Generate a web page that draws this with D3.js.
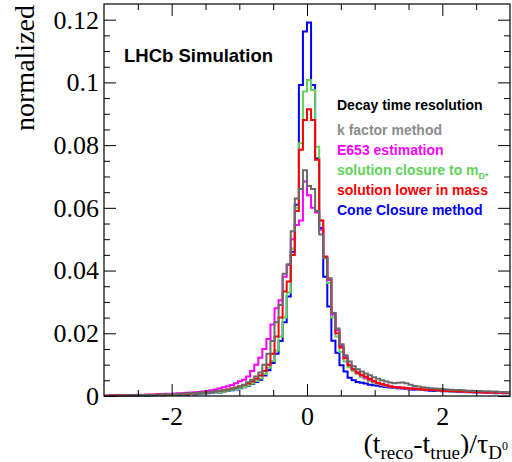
<!DOCTYPE html>
<html>
<head>
<meta charset="utf-8">
<script src="https://cdn.jsdelivr.net/npm/d3@7"></script>
<style>
  body { margin: 0; background: #fff; }
  svg text { fill: #000; }
</style>
</head>
<body>
<svg id="chart" width="512" height="462"></svg>
<script>
// Histogram binning: 100 bins of (t_reco - t_true)/tau over [-3, 3]
const xMin = -3, xMax = 3, nBins = 100;

// Normalized bin contents, one array per decay-time estimator (bins from -3 upwards)
const kFactor = [
  0.0001, 0.0001, 0.0001, 0.0002, 0.0001, 0.0002, 0.0002, 0.0002, 0.0003, 0.0003,
  0.0003, 0.0004, 0.0004, 0.0004, 0.0005, 0.0005, 0.0006, 0.0006, 0.0007, 0.0007,
  0.0008, 0.0009, 0.0009, 0.0010, 0.0011, 0.0012, 0.0013, 0.0014, 0.0016, 0.0018,
  0.0020, 0.0023, 0.0026, 0.0030, 0.0036, 0.0044, 0.0052, 0.0062, 0.0075, 0.0100,
  0.0135, 0.0175, 0.0235, 0.0290, 0.0390, 0.0420, 0.0525, 0.0630, 0.0660, 0.0720,
  0.0670, 0.0660, 0.0590, 0.0515, 0.0440, 0.0375, 0.0265, 0.0215, 0.0165, 0.0130,
  0.0110, 0.0095, 0.0085, 0.0078, 0.0072, 0.0066, 0.0060, 0.0055, 0.0050, 0.0046,
  0.0043, 0.0041, 0.0042, 0.0043, 0.0041, 0.0036, 0.0032, 0.0030, 0.0028, 0.0026,
  0.0025, 0.0024, 0.0023, 0.0022, 0.0021, 0.0020, 0.0019, 0.0019, 0.0018, 0.0017,
  0.0017, 0.0016, 0.0016, 0.0015, 0.0015, 0.0014, 0.0014, 0.0013, 0.0013, 0.0012
];
const e653 = [
  0.0001, 0.0002, 0.0001, 0.0002, 0.0002, 0.0003, 0.0002, 0.0003, 0.0004, 0.0003,
  0.0004, 0.0005, 0.0005, 0.0006, 0.0006, 0.0007, 0.0007, 0.0008, 0.0009, 0.0009,
  0.0010, 0.0011, 0.0012, 0.0013, 0.0014, 0.0016, 0.0018, 0.0020, 0.0024, 0.0028,
  0.0031, 0.0035, 0.0041, 0.0047, 0.0052, 0.0062, 0.0080, 0.0100, 0.0122, 0.0150,
  0.0182, 0.0228, 0.0280, 0.0305, 0.0380, 0.0418, 0.0500, 0.0545, 0.0560, 0.0684,
  0.0640, 0.0600, 0.0585, 0.0530, 0.0440, 0.0370, 0.0260, 0.0210, 0.0160, 0.0125,
  0.0100, 0.0085, 0.0074, 0.0065, 0.0058, 0.0052, 0.0046, 0.0041, 0.0037, 0.0034,
  0.0031, 0.0029, 0.0028, 0.0026, 0.0025, 0.0024, 0.0023, 0.0022, 0.0021, 0.0020,
  0.0019, 0.0019, 0.0018, 0.0017, 0.0016, 0.0016, 0.0015, 0.0015, 0.0014, 0.0014,
  0.0013, 0.0013, 0.0012, 0.0012, 0.0011, 0.0011, 0.0011, 0.0010, 0.0010, 0.0010
];
const closureMDstar = [
  0.0000, 0.0001, 0.0000, 0.0001, 0.0001, 0.0001, 0.0001, 0.0002, 0.0001, 0.0002,
  0.0002, 0.0002, 0.0003, 0.0003, 0.0003, 0.0004, 0.0003, 0.0004, 0.0005, 0.0005,
  0.0006, 0.0006, 0.0007, 0.0008, 0.0009, 0.0010, 0.0011, 0.0013, 0.0012, 0.0015,
  0.0017, 0.0020, 0.0022, 0.0026, 0.0029, 0.0034, 0.0040, 0.0048, 0.0056, 0.0070,
  0.0090, 0.0112, 0.0145, 0.0190, 0.0250, 0.0330, 0.0470, 0.0600, 0.0806, 0.0971,
  0.1008, 0.0976, 0.0795, 0.0560, 0.0440, 0.0360, 0.0250, 0.0190, 0.0140, 0.0110,
  0.0092, 0.0080, 0.0070, 0.0060, 0.0055, 0.0048, 0.0042, 0.0038, 0.0035, 0.0032,
  0.0030, 0.0028, 0.0027, 0.0026, 0.0024, 0.0023, 0.0022, 0.0021, 0.0020, 0.0019,
  0.0019, 0.0018, 0.0017, 0.0016, 0.0016, 0.0015, 0.0015, 0.0014, 0.0014, 0.0013,
  0.0013, 0.0012, 0.0012, 0.0012, 0.0011, 0.0011, 0.0010, 0.0010, 0.0010, 0.0009
];
const lowerMass = [
  0.0001, 0.0001, 0.0002, 0.0001, 0.0002, 0.0002, 0.0003, 0.0002, 0.0003, 0.0003,
  0.0004, 0.0003, 0.0004, 0.0005, 0.0004, 0.0005, 0.0005, 0.0006, 0.0006, 0.0007,
  0.0007, 0.0008, 0.0009, 0.0010, 0.0011, 0.0012, 0.0013, 0.0015, 0.0016, 0.0018,
  0.0021, 0.0024, 0.0027, 0.0031, 0.0035, 0.0040, 0.0046, 0.0055, 0.0065, 0.0080,
  0.0100, 0.0135, 0.0190, 0.0250, 0.0333, 0.0365, 0.0450, 0.0590, 0.0785, 0.0880,
  0.0914, 0.0880, 0.0753, 0.0560, 0.0445, 0.0375, 0.0265, 0.0200, 0.0155, 0.0120,
  0.0098, 0.0085, 0.0075, 0.0068, 0.0062, 0.0055, 0.0048, 0.0042, 0.0038, 0.0034,
  0.0030, 0.0029, 0.0027, 0.0026, 0.0025, 0.0024, 0.0023, 0.0022, 0.0021, 0.0020,
  0.0019, 0.0019, 0.0018, 0.0017, 0.0017, 0.0016, 0.0015, 0.0015, 0.0014, 0.0014,
  0.0013, 0.0013, 0.0012, 0.0012, 0.0011, 0.0011, 0.0011, 0.0010, 0.0010, 0.0010
];
const coneClosure = [
  0.0000, 0.0000, 0.0001, 0.0000, 0.0001, 0.0001, 0.0000, 0.0001, 0.0001, 0.0002,
  0.0001, 0.0002, 0.0002, 0.0003, 0.0002, 0.0003, 0.0003, 0.0004, 0.0003, 0.0005,
  0.0004, 0.0006, 0.0005, 0.0007, 0.0008, 0.0009, 0.0010, 0.0012, 0.0011, 0.0014,
  0.0016, 0.0018, 0.0021, 0.0025, 0.0028, 0.0033, 0.0038, 0.0045, 0.0052, 0.0065,
  0.0082, 0.0105, 0.0135, 0.0175, 0.0235, 0.0317, 0.0460, 0.0610, 0.0992, 0.1162,
  0.1191, 0.0992, 0.0758, 0.0536, 0.0380, 0.0285, 0.0176, 0.0138, 0.0098, 0.0078,
  0.0058, 0.0050, 0.0045, 0.0042, 0.0040, 0.0036, 0.0034, 0.0033, 0.0030, 0.0029,
  0.0027, 0.0026, 0.0025, 0.0024, 0.0022, 0.0021, 0.0020, 0.0020, 0.0019, 0.0018,
  0.0017, 0.0016, 0.0016, 0.0015, 0.0015, 0.0014, 0.0014, 0.0013, 0.0013, 0.0012,
  0.0012, 0.0011, 0.0012, 0.0011, 0.0010, 0.0010, 0.0009, 0.0010, 0.0009, 0.0009
];

const legendHeader = "Decay time resolution";
const seriesLabels = ["k factor method", "E653 estimation", "solution closure to m", "solution lower in mass", "Cone Closure method"];
const seriesValues = [kFactor, e653, closureMDstar, lowerMass, coneClosure];
const seriesColors = ["#6a6a6a", "#ff00ff", "#5fd35a", "#ff0000", "#0000ff"];
const legendTextColors = ["#8c8c8c", "#ff00ff", "#5fd35a", "#ff0000", "#0000ff"];
// stacking order of the outlines (index into the series arrays), last on top
const drawOrder = [4, 2, 1, 3, 0];

const xMajorTicks = [-2, 0, 2];
const xMajorLabels = ["-2", "0", "2"];
const xMinorTicks = [-2.5, -1.5, -1, -0.5, 0.5, 1, 1.5, 2.5];
const yMajorTicks = [0, 0.02, 0.04, 0.06, 0.08, 0.1, 0.12];
const yMajorLabels = ["0", "0.02", "0.04", "0.06", "0.08", "0.1", "0.12"];
const yMinorTicks = [0.005, 0.01, 0.015, 0.025, 0.03, 0.035, 0.045, 0.05, 0.055,
                     0.065, 0.07, 0.075, 0.085, 0.09, 0.095, 0.105, 0.11, 0.115];

// ---- layout ----
const plot = { left: 104, right: 510, top: 4, bottom: 396 };
const serif = "'Liberation Serif', 'Times New Roman', serif";
const sans = "'Liberation Sans', Arial, Helvetica, sans-serif";

const svg = d3.select("#chart");
const x = d3.scaleLinear().domain([xMin, xMax]).range([plot.left, plot.right]);
const y = d3.scaleLinear().domain([0, 0.125]).range([plot.bottom, plot.top]);
const binWidth = (xMax - xMin) / nBins;

// ---- histogram outlines ----
const stepLine = d3.line()
  .x(d => x(d.edge))
  .y(d => y(d.value))
  .curve(d3.curveStepAfter);

const histG = svg.append("g");
drawOrder.forEach(si => {
  const vals = seriesValues[si];
  const pts = vals.map((v, i) => ({ edge: xMin + i * binWidth, value: v }));
  pts.push({ edge: xMax, value: vals[vals.length - 1] });
  histG.append("path")
    .attr("d", stepLine(pts))
    .attr("fill", "none")
    .attr("stroke", seriesColors[si])
    .attr("stroke-width", 2)
    .attr("stroke-linejoin", "miter");
});

// ---- axes (ticks on all four sides, pointing inwards) ----
function styleAxis(g) {
  g.select(".domain").remove();
  g.selectAll("line").attr("stroke", "#000").attr("stroke-width", 1);
  g.selectAll("text").attr("font-family", serif).attr("font-size", 26).attr("fill", "#000");
}

svg.append("g").attr("transform", `translate(0,${plot.bottom})`)
  .call(d3.axisBottom(x).tickValues(xMajorTicks).tickSize(-12).tickPadding(11)
    .tickFormat((d, i) => xMajorLabels[i]))
  .call(styleAxis);
svg.append("g").attr("transform", `translate(0,${plot.bottom})`)
  .call(d3.axisBottom(x).tickValues(xMinorTicks).tickSize(-6).tickFormat(""))
  .call(styleAxis);
svg.append("g").attr("transform", `translate(0,${plot.top})`)
  .call(d3.axisTop(x).tickValues(xMajorTicks).tickSize(-12).tickFormat(""))
  .call(styleAxis);
svg.append("g").attr("transform", `translate(0,${plot.top})`)
  .call(d3.axisTop(x).tickValues(xMinorTicks).tickSize(-6).tickFormat(""))
  .call(styleAxis);

svg.append("g").attr("transform", `translate(${plot.left},0)`)
  .call(d3.axisLeft(y).tickValues(yMajorTicks).tickSize(-12).tickPadding(5)
    .tickFormat((d, i) => yMajorLabels[i]))
  .call(styleAxis);
svg.append("g").attr("transform", `translate(${plot.left},0)`)
  .call(d3.axisLeft(y).tickValues(yMinorTicks).tickSize(-6).tickFormat(""))
  .call(styleAxis);
svg.append("g").attr("transform", `translate(${plot.right},0)`)
  .call(d3.axisRight(y).tickValues(yMajorTicks).tickSize(-12).tickFormat(""))
  .call(styleAxis);
svg.append("g").attr("transform", `translate(${plot.right},0)`)
  .call(d3.axisRight(y).tickValues(yMinorTicks).tickSize(-6).tickFormat(""))
  .call(styleAxis);

// frame
svg.append("rect")
  .attr("x", plot.left).attr("y", plot.top)
  .attr("width", plot.right - plot.left).attr("height", plot.bottom - plot.top)
  .attr("fill", "none").attr("stroke", "#000").attr("stroke-width", 1.2);

// ---- axis titles ----
svg.append("text")
  .attr("transform", `translate(34,${plot.top + 1}) rotate(-90)`)
  .attr("text-anchor", "end")
  .attr("font-family", serif).attr("font-size", 28)
  .text("normalized");

const xt = svg.append("text")
  .attr("x", 508).attr("y", 453)
  .attr("text-anchor", "end")
  .attr("font-family", serif).attr("font-size", 28);
xt.append("tspan").text("(t");
xt.append("tspan").attr("font-size", 19).attr("dy", 6).text("reco");
xt.append("tspan").attr("dy", -6).text("-t");
xt.append("tspan").attr("font-size", 19).attr("dy", 6).text("true");
xt.append("tspan").attr("dy", -6).text(")/\u03C4");
xt.append("tspan").attr("font-size", 19).attr("dy", 6).text("D");
xt.append("tspan").attr("font-size", 12).attr("dy", -9).text("0");

// ---- labels ----
svg.append("text")
  .attr("x", 124).attr("y", 62)
  .attr("font-family", sans).attr("font-weight", "bold").attr("font-size", 18.5)
  .text("LHCb Simulation");

const legend = svg.append("g")
  .attr("font-family", sans).attr("font-weight", "bold").attr("font-size", 14);
legend.append("text").attr("x", 337).attr("y", 110).attr("fill", "#000").text(legendHeader);
seriesLabels.forEach((lab, i) => {
  const t = legend.append("text")
    .attr("x", 337).attr("y", 134.5 + i * 20)
    .attr("fill", legendTextColors[i])
    .style("fill", legendTextColors[i]);
  t.append("tspan").text(lab);
  if (i === 2) {
    t.append("tspan").attr("font-size", 9).attr("dy", 4).text("D*");
  }
});
</script>
</body>
</html>
